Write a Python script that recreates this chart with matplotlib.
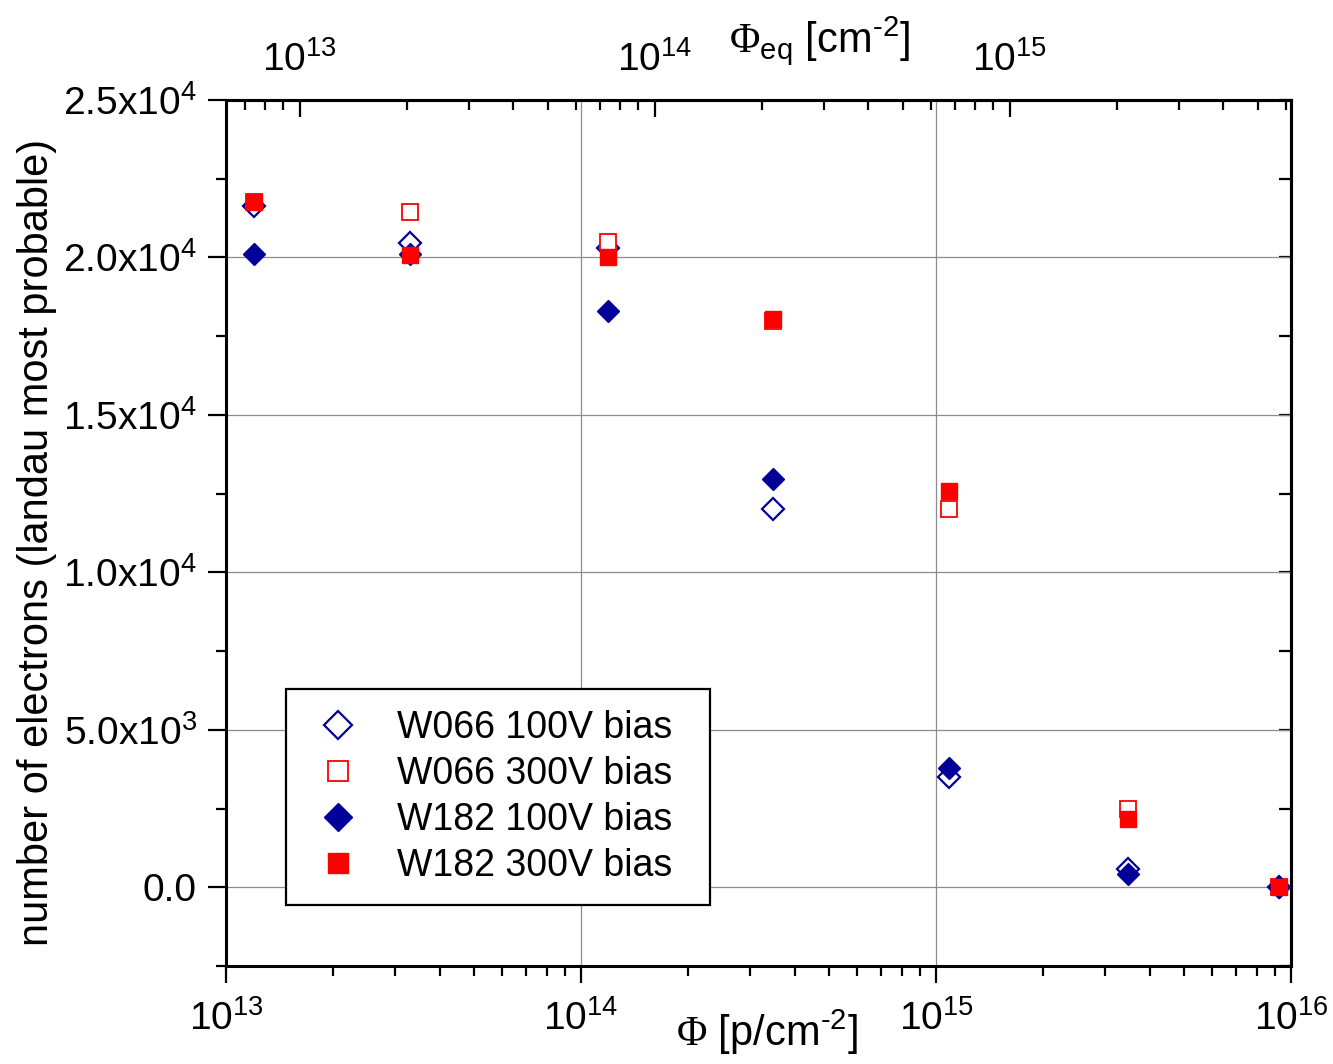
import matplotlib
matplotlib.use('Agg')
import matplotlib.pyplot as plt
import numpy as np
from matplotlib.ticker import LogLocator, MultipleLocator, FuncFormatter, NullFormatter, FixedLocator

plt.rcParams['font.family'] = ['Liberation Sans', 'DejaVu Sans']
plt.rcParams['mathtext.fontset'] = 'custom'
plt.rcParams['mathtext.rm'] = 'Liberation Sans'
plt.rcParams['mathtext.it'] = 'Liberation Sans:italic'
plt.rcParams['mathtext.bf'] = 'Liberation Sans:bold'
plt.rcParams['mathtext.sf'] = 'Liberation Sans'
plt.rcParams['mathtext.cal'] = 'Liberation Serif'

# ---------------- data ----------------
fluence = [1.2e13, 3.3e13, 1.19e14, 3.47e14, 1.09e15, 3.47e15, 9.25e15]
w066_100 = [21620, 20470, 20290, 12000, 3490, 570, 0]
w066_300 = [21770, 21440, 20500, 17980, 12000, 2500, 0]
w182_100 = [20100, 20100, 18290, 12980, 3790, 410, 0]
w182_300 = [21770, 20090, 20000, 18050, 12590, 2180, 0]
labels = ['W066 100V bias', 'W066 300V bias', 'W182 100V bias', 'W182 300V bias']
hardness = 0.62
top_ticks = [1e13, 1e14, 1e15]

navy = '#000099'
red = '#ff0000'

W, H = 1333, 1064
fig = plt.figure(figsize=(W / 100, H / 100), dpi=100)
ax = fig.add_axes([226 / W, 1 - 966 / H, (1291 - 226) / W, (966 - 100) / H])
ax.set_axisbelow(True)

ms = 11.5
ax.plot(fluence, w066_100, ls='none', marker='D', ms=ms, mfc='white', mec=navy, mew=1.6, label=labels[0], zorder=3)
ax.plot(fluence, w066_300, ls='none', marker='s', ms=ms, mfc='white', mec=red, mew=1.3, label=labels[1], zorder=3)
ax.plot(fluence, w182_100, ls='none', marker='D', ms=ms, mfc=navy, mec=navy, mew=1.0, label=labels[2], zorder=3)
ax.plot(fluence, w182_300, ls='none', marker='s', ms=ms, mfc=red, mec=red, mew=1.0, label=labels[3], zorder=3)

ax.set_xscale('log')
ax.set_xlim(1e13, 1e16)
ax.set_ylim(-2500, 25000)

ax.xaxis.set_major_locator(LogLocator(base=10))
ax.xaxis.set_minor_locator(LogLocator(base=10, subs=np.arange(2, 10)))
ax.xaxis.set_minor_formatter(NullFormatter())
ax.yaxis.set_major_locator(MultipleLocator(5000))
ax.yaxis.set_minor_locator(MultipleLocator(2500))


def yfmt(v, pos):
    if abs(v) < 1e-9:
        return '0.0'
    e = int(np.floor(np.log10(abs(v))))
    m = v / 10 ** e
    return '$\\mathdefault{%.1fx10^{%d}}$' % (m, e)


ax.yaxis.set_major_formatter(FuncFormatter(yfmt))

ax.grid(True, which='major', color='#8c8c8c', lw=0.9)

for s in ax.spines.values():
    s.set_linewidth(2.2)

ax.tick_params(axis='x', which='both', direction='out', top=False, bottom=True, width=1.6, labelsize=28)
ax.tick_params(axis='x', which='major', length=12.5, pad=12)
ax.tick_params(axis='x', which='minor', length=7)
ax.tick_params(axis='y', which='both', direction='out', left=True, right=False, width=1.6, labelsize=28)
ax.tick_params(axis='y', which='major', length=13, pad=8)
ax.tick_params(axis='y', which='minor', length=7.5)

# right inward ticks
secy = ax.secondary_yaxis('right')
secy.yaxis.set_major_locator(MultipleLocator(5000))
secy.yaxis.set_minor_locator(MultipleLocator(2500))
secy.tick_params(which='both', direction='in', length=8.5, width=1.6, labelright=False)
secy.spines['right'].set_linewidth(2.2)

# top equivalent fluence axis
secx = ax.secondary_xaxis('top', functions=(lambda x: x * hardness, lambda x: x / hardness))
secx.xaxis.set_major_locator(FixedLocator(top_ticks))
secx.xaxis.set_minor_locator(LogLocator(base=10, subs=np.arange(2, 10)))
secx.xaxis.set_minor_formatter(NullFormatter())
secx.tick_params(which='both', direction='in', width=1.6, labelsize=28)
secx.tick_params(which='major', length=12.5, pad=15)
secx.tick_params(which='minor', length=7)
secx.spines['top'].set_linewidth(2.2)

# axis titles
fig.text(767 / W, 1 - 1032 / H, r'$\mathcal{\Phi}$ [p/cm$^{\mathdefault{\text{-}2}}$]',
         ha='center', va='center', fontsize=30)
fig.text(820 / W, 1 - 40 / H, r'$\mathcal{\Phi}_{\mathdefault{eq}}$ [cm$^{\mathdefault{\text{-}2}}$]',
         ha='center', va='center', fontsize=30)
fig.text(37 / W, 1 - 542 / H, 'number of electrons (landau most probable)',
         rotation=90, ha='center', va='center', fontsize=30)

leg = ax.legend(loc='lower left',
                bbox_to_anchor=((286 - 226) / 1065, (966 - 905) / 866, (710 - 286) / 1065, (905 - 685) / 866),
                mode='expand', borderaxespad=0, fontsize=27, frameon=True, fancybox=False,
                edgecolor='black', framealpha=1, borderpad=0.55, labelspacing=0.27,
                handlelength=1.67, handletextpad=0.73, markerscale=1.2)
leg.get_frame().set_linewidth(1.6)

fig.savefig('out.png', dpi=100)
